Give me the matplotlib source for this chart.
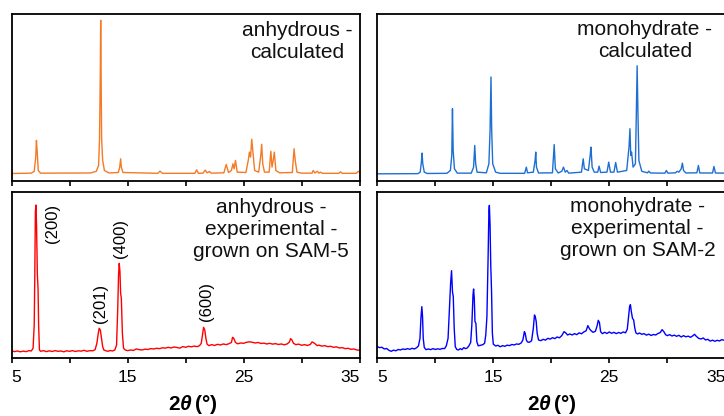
import numpy as np
import matplotlib
matplotlib.use("Agg")
import matplotlib.pyplot as plt

# ---------- config ----------
plt.rcParams['font.family'] = ['Liberation Sans', 'DejaVu Sans']
plt.rcParams['mathtext.fontset'] = 'custom'
plt.rcParams['mathtext.rm'] = 'Liberation Sans'
plt.rcParams['mathtext.bf'] = 'Liberation Sans:bold'
plt.rcParams['mathtext.it'] = 'Liberation Sans:italic:bold'

orange = "#F57A26"
calc_blue = "#1F6FD3"
exp_red = "#FF0000"
exp_blue = "#0000FF"

x_ticks = [5, 10, 15, 20, 25, 30, 35]
x_tick_labels = ["5", "", "15", "", "25", "", "35"]

# ---------- data: 2theta (deg), intensity (a.u.) ----------
anhydrous_calc = np.array([
    (5.0, 4.2), (6.7, 4.4), (6.95, 5.5), (7.08, 14), (7.14, 24), (7.2, 18), (7.3, 6), (7.5, 4.4),
    (11.8, 4.5), (12.3, 5.5), (12.5, 9), (12.58, 25), (12.64, 60), (12.68, 96), (12.72, 60),
    (12.76, 25), (12.85, 12), (13.0, 6), (13.4, 4.5),
    (14.2, 4.8), (14.32, 8), (14.4, 13), (14.46, 8), (14.6, 4.8),
    (17.6, 4.3), (17.8, 5.6), (18.0, 4.3),
    (20.8, 4.3), (20.95, 6.4), (21.1, 4.3), (21.5, 4.4), (21.7, 6.2), (21.85, 4.6), (22.05, 5.4), (22.2, 4.4),
    (23.3, 4.6), (23.5, 9.6), (23.7, 4.8), (23.95, 6), (24.08, 10), (24.18, 7), (24.3, 12), (24.45, 5),
    (25.2, 4.8), (25.4, 12), (25.5, 17), (25.6, 14), (25.7, 24.7), (25.82, 16), (25.95, 6),
    (26.3, 5), (26.48, 15), (26.56, 21.7), (26.65, 10), (26.8, 5),
    (27.2, 5), (27.35, 17.5), (27.45, 8), (27.55, 12), (27.65, 17), (27.78, 6), (28.1, 4.6),
    (29.2, 4.8), (29.35, 19), (29.45, 12), (29.6, 5), (30.0, 4.4),
    (30.9, 4.4), (31.0, 6), (31.15, 4.5), (31.35, 5.5), (31.5, 4.4), (31.65, 5), (31.8, 4.3),
    (33.2, 4.3), (33.35, 5.2), (33.5, 4.3), (34.7, 4.3), (34.9, 5.5), (35.0, 5),
])

monohydrate_calc = np.array([
    (5.0, 4.0), (8.5, 4.1), (8.7, 5), (8.8, 11), (8.86, 16.4), (8.92, 10), (9.05, 5), (9.3, 4.2),
    (11.0, 4.3), (11.3, 6), (11.42, 15), (11.48, 43), (11.54, 18), (11.65, 7), (11.9, 4.4),
    (13.1, 4.4), (13.3, 8), (13.4, 21), (13.48, 10), (13.6, 5),
    (14.4, 4.6), (14.62, 10), (14.72, 30), (14.8, 62), (14.86, 30), (14.95, 10), (15.2, 5), (15.6, 4.3),
    (17.7, 4.3), (17.85, 8), (17.95, 4.6), (18.45, 5), (18.6, 12), (18.66, 17), (18.72, 8), (18.9, 4.5),
    (20.1, 4.6), (20.25, 21.5), (20.35, 7), (20.6, 4.5), (20.9, 5.5), (21.05, 8), (21.2, 5), (21.35, 6), (21.5, 4.4),
    (22.6, 5), (22.75, 13), (22.85, 7), (23.2, 6), (23.35, 15), (23.42, 20), (23.52, 8), (23.7, 5),
    (24.0, 5), (24.12, 8.6), (24.25, 4.8), (24.8, 5), (24.95, 11), (25.1, 5), (25.4, 5), (25.55, 10.8), (25.7, 5),
    (26.5, 6), (26.7, 20), (26.78, 31), (26.85, 15), (26.92, 17), (27.05, 8), (27.25, 10),
    (27.33, 40), (27.4, 68.7), (27.47, 40), (27.55, 12), (27.8, 5.5),
    (28.3, 4.6), (28.4, 5.6), (28.55, 4.5), (29.8, 4.4), (29.92, 6), (30.05, 4.4),
    (30.7, 4.6), (30.85, 5.5), (31.0, 5), (31.2, 7), (31.3, 10.4), (31.4, 6), (31.6, 4.5),
    (32.55, 4.6), (32.68, 9), (32.8, 4.5), (33.9, 4.5), (34.02, 8.4), (34.15, 4.5), (35.0, 4.4),
])

anhydrous_exp = np.array([
    (5.0, 4.5), (5.25, 4.0), (5.5, 4.4), (5.75, 3.9), (6.0, 4.3), (6.25, 4.0), (6.5, 4.6), (6.7, 4.4),
    (6.85, 6), (6.95, 20), (7.0, 50), (7.05, 88), (7.1, 92), (7.15, 80), (7.22, 50), (7.28, 42),
    (7.33, 20), (7.4, 5), (7.5, 4.2), (7.75, 4.6), (8.0, 4.0), (8.25, 4.5), (8.5, 4.1), (8.75, 4.6),
    (9.0, 4.2), (9.25, 4.4), (9.5, 3.9), (9.75, 4.5), (10.0, 4.2), (10.25, 4.6), (10.5, 4.1),
    (10.75, 4.5), (11.0, 4.3), (11.25, 4.8), (11.5, 4.2), (11.75, 4.6), (12.0, 4.5), (12.2, 5.2),
    (12.35, 9), (12.45, 14), (12.55, 18), (12.65, 17), (12.75, 12), (12.85, 7), (12.95, 5),
    (13.1, 4.6), (13.3, 4.2), (13.5, 4.7), (13.7, 4.4), (13.9, 5), (14.05, 8), (14.15, 30),
    (14.22, 50), (14.28, 57), (14.34, 52), (14.4, 39), (14.46, 36), (14.55, 15), (14.65, 6),
    (14.8, 5), (15.0, 4.6), (15.25, 5.0), (15.5, 4.7), (15.75, 5.6), (16.0, 5.2), (16.25, 5.0),
    (16.5, 5.5), (16.75, 5.3), (17.0, 5.8), (17.25, 5.6), (17.5, 6.0), (17.75, 5.8), (18.0, 6.3),
    (18.25, 6.1), (18.5, 6.6), (18.75, 6.2), (19.0, 6.8), (19.25, 6.5), (19.5, 6.1), (19.75, 7.0),
    (20.0, 6.6), (20.25, 7.2), (20.5, 6.9), (20.75, 7.3), (21.0, 7.0), (21.2, 7.6), (21.35, 9),
    (21.45, 14), (21.55, 18.6), (21.65, 17), (21.75, 12), (21.85, 8.5), (22.0, 7.6), (22.25, 8.2),
    (22.5, 7.7), (22.75, 8.4), (23.0, 8.0), (23.25, 8.6), (23.5, 8.2), (23.75, 8.8), (23.95, 9.5),
    (24.05, 12.6), (24.15, 12.0), (24.3, 9.5), (24.5, 8.7), (24.75, 9.2), (25.0, 9.0), (25.25, 9.6),
    (25.5, 9.9), (25.75, 9.6), (26.0, 9.2), (26.25, 9.5), (26.5, 8.9), (26.75, 9.1), (27.0, 8.6),
    (27.25, 9.0), (27.5, 8.5), (27.75, 8.8), (28.0, 8.3), (28.25, 8.6), (28.5, 8.1), (28.75, 8.6),
    (28.95, 9.8), (29.05, 11.8), (29.15, 11.2), (29.3, 9.0), (29.5, 8.2), (29.75, 8.5), (30.0, 7.8),
    (30.25, 8.2), (30.5, 7.7), (30.75, 8.3), (30.9, 9.8), (31.0, 9.5), (31.15, 8.8), (31.35, 7.6),
    (31.5, 7.9), (31.75, 7.3), (32.0, 7.6), (32.25, 7.0), (32.5, 7.2), (32.75, 6.6), (33.0, 6.9),
    (33.25, 6.2), (33.5, 6.4), (33.75, 5.8), (34.0, 6.0), (34.25, 5.4), (34.5, 5.6), (34.75, 5.0),
    (35.0, 4.8),
])

monohydrate_exp = np.array([
    (5.0, 7.0), (5.2, 6.4), (5.4, 6.6), (5.6, 5.6), (5.8, 5.9), (6.0, 4.8), (6.2, 4.2), (6.4, 4.9),
    (6.6, 4.5), (6.8, 5.3), (7.0, 5.0), (7.2, 5.6), (7.4, 5.3), (7.6, 5.8), (7.8, 5.4), (8.0, 6.0),
    (8.2, 5.6), (8.4, 6.4), (8.55, 7.5), (8.68, 12), (8.76, 24), (8.84, 31), (8.9, 25), (8.96, 12),
    (9.05, 6.5), (9.2, 5.2), (9.4, 5.6), (9.6, 5.2), (9.8, 5.8), (10.0, 5.3), (10.2, 5.7), (10.4, 5.4),
    (10.6, 5.9), (10.8, 5.8), (10.95, 7.5), (11.1, 12), (11.22, 30), (11.32, 45), (11.4, 52.6),
    (11.48, 40), (11.55, 37), (11.63, 18), (11.72, 7), (11.85, 5.3), (12.0, 5.0), (12.15, 5.8),
    (12.3, 5.2), (12.45, 6.4), (12.6, 5.8), (12.75, 6.2), (12.9, 7.5), (13.05, 9.5), (13.15, 20),
    (13.25, 38), (13.3, 41.6), (13.36, 36), (13.42, 22), (13.5, 21), (13.58, 10), (13.7, 7.5),
    (13.9, 7.8), (14.1, 8.2), (14.25, 9), (14.35, 14), (14.45, 25), (14.55, 60), (14.62, 88),
    (14.66, 91.8), (14.72, 80), (14.78, 56), (14.85, 40), (14.92, 15), (15.0, 8.5), (15.2, 7.4),
    (15.4, 7.8), (15.6, 6.9), (15.8, 7.6), (16.0, 7.2), (16.2, 7.9), (16.4, 7.6), (16.6, 8.3),
    (16.8, 8.0), (17.0, 8.6), (17.2, 8.4), (17.4, 9.2), (17.55, 11), (17.68, 16), (17.75, 15),
    (17.85, 11), (17.95, 9.8), (18.1, 9.6), (18.3, 10.5), (18.45, 18), (18.55, 26), (18.62, 25),
    (18.7, 22), (18.78, 15), (18.9, 11), (19.1, 10.6), (19.3, 11.4), (19.5, 10.9), (19.7, 12),
    (19.9, 11.5), (20.1, 12.4), (20.3, 11.8), (20.5, 12.8), (20.7, 12.3), (20.9, 13.6), (21.1, 16.0),
    (21.25, 15.2), (21.4, 14.0), (21.6, 14.6), (21.8, 14.0), (22.0, 14.8), (22.2, 14.2), (22.4, 15.3),
    (22.6, 14.7), (22.8, 15.8), (23.0, 16.5), (23.15, 19.6), (23.3, 17.6), (23.45, 16.4), (23.6, 15.6),
    (23.8, 16.2), (23.95, 19.5), (24.05, 22.8), (24.15, 21.5), (24.25, 16), (24.4, 14.8), (24.6, 15.6),
    (24.8, 14.9), (25.0, 15.8), (25.2, 15.0), (25.4, 15.6), (25.6, 14.8), (25.8, 15.5), (26.0, 15.0),
    (26.2, 15.8), (26.4, 15.3), (26.55, 17.5), (26.65, 24), (26.75, 31), (26.82, 32.2), (26.9, 28),
    (27.0, 24), (27.1, 23), (27.2, 18), (27.3, 15.2), (27.45, 14.6), (27.6, 15.2), (27.8, 14.4),
    (28.0, 14.8), (28.2, 13.9), (28.4, 14.5), (28.6, 13.7), (28.8, 14.3), (29.0, 14.0), (29.2, 14.9),
    (29.4, 15.5), (29.55, 17.2), (29.7, 16.0), (29.85, 14.2), (30.0, 13.6), (30.2, 14.2), (30.4, 13.4),
    (30.6, 13.9), (30.8, 13.2), (31.0, 13.8), (31.2, 12.8), (31.4, 13.6), (31.6, 12.9), (31.8, 13.3),
    (32.0, 12.6), (32.2, 13.5), (32.35, 14.4), (32.5, 13.2), (32.7, 12.0), (32.9, 11.6), (33.1, 12.2),
    (33.3, 11.0), (33.5, 11.4), (33.7, 10.3), (33.9, 10.9), (34.1, 10.2), (34.3, 10.8), (34.5, 10.4),
    (34.7, 11.2), (34.9, 10.8), (35.0, 11.2),
])

# peak assignments on the anhydrous experimental pattern
hkl_labels = ["(200)", "(201)", "(400)", "(600)"]
hkl_x = [8.55, 12.68, 14.4, 21.82]
hkl_y = [81, 33, 72, 34]

panel_titles = [
    "anhydrous -\ncalculated",
    "monohydrate -\ncalculated",
    "anhydrous -\nexperimental -\ngrown on SAM-5",
    "monohydrate -\nexperimental -\ngrown on SAM-2",
]

# ---------- figure ----------
fig = plt.figure(figsize=(7.24, 4.16), dpi=100)
W, H = 724, 416

def add_panel(left, top, right, bottom):
    return fig.add_axes([left / W, 1 - bottom / H, (right - left) / W, (bottom - top) / H])

ax_tl = add_panel(11.6, 13.5, 359.6, 180.5)
ax_tr = add_panel(377.3, 13.5, 725.3, 180.5)
ax_bl = add_panel(11.6, 191.7, 359.6, 358.3)
ax_br = add_panel(377.3, 191.7, 725.3, 358.3)

panels = [
    (ax_tl, anhydrous_calc, orange, panel_titles[0], 0.82, 0.955),
    (ax_tr, monohydrate_calc, calc_blue, panel_titles[1], 0.769, 0.96),
    (ax_bl, anhydrous_exp, exp_red, panel_titles[2], 0.745, 0.965),
    (ax_br, monohydrate_exp, exp_blue, panel_titles[3], 0.748, 0.968),
]

for ax, data, color, title, tx, ty in panels:
    ax.plot(data[:, 0], data[:, 1], color=color, linewidth=1.0)
    ax.set_xlim(5, 35)
    ax.set_ylim(0, 100)
    ax.set_yticks([])
    ax.set_xticks(x_ticks)
    ax.tick_params(axis='x', direction='out', length=3.5, width=1.2, labelsize=12.5, pad=5)
    for side in ['top', 'bottom', 'left', 'right']:
        ax.spines[side].set_linewidth(1.3)
        ax.spines[side].set_color('black')
    ax.text(tx, ty, title, transform=ax.transAxes, ha='center', va='top',
            multialignment='center', fontsize=15, color='#111111')

for ax in (ax_tl, ax_tr):
    ax.tick_params(axis='x', labelbottom=False)

for ax in (ax_bl, ax_br):
    ax.set_xticklabels(x_tick_labels)
    labels = ax.get_xticklabels()
    labels[0].set_horizontalalignment('left')
    labels[-1].set_horizontalalignment('right')

for lab, x, y in zip(hkl_labels, hkl_x, hkl_y):
    ax_bl.text(x, y, lab, rotation=90, ha='center', va='center', fontsize=12)

xlabel = r'$\mathbf{2}\mathit{\theta}\,\mathbf{(°)}$'
fig.text(193 / W, 1 - 404 / H, xlabel, ha='center', va='center', fontsize=15)
fig.text(551.7 / W, 1 - 404 / H, xlabel, ha='center', va='center', fontsize=15)

fig.savefig('out.png', dpi=100)
